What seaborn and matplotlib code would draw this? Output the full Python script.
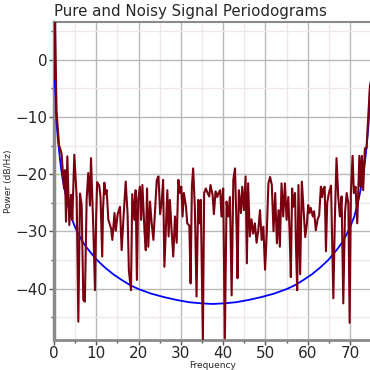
import numpy as np
import pandas as pd
import seaborn as sns
import matplotlib.pyplot as plt
from matplotlib.ticker import MultipleLocator

# noisy periodogram
NoisyFreq = [0.0, 0.25, 0.6, 1.2, 1.58, 1.8, 2.36, 2.6, 2.84, 3.15, 3.62, 4.02, 4.33, 4.8,
             5.36, 5.75, 6.15, 6.54, 6.93, 7.3, 7.72, 8.1, 8.5, 8.75, 9.3, 9.69, 9.95, 10.2,
             10.7, 11.0, 11.4, 11.6, 11.9, 12.2, 12.45, 12.85, 13.5, 13.8, 14.3, 14.6, 15.05,
             15.6, 16.0, 16.4, 16.95, 17.4, 17.7, 18.2, 18.5, 19.0, 19.3, 19.6, 19.9, 20.3,
             20.6, 20.9, 21.4, 21.7, 22.0, 22.3, 22.7, 23.1, 23.5, 23.9, 24.3, 24.7, 25.1,
             25.5, 25.8, 26.1, 26.5, 26.8, 27.1, 27.4, 27.8, 28.2, 28.6, 29.0, 29.4, 29.8,
             30.1, 30.4, 30.7, 31.2, 31.5, 32.0, 32.3, 32.6, 32.9, 33.3, 33.7, 34.1, 34.4,
             34.7, 35.2, 35.5, 35.9, 36.3, 36.7, 37.0, 37.5, 37.8, 38.2, 38.6, 38.9, 39.3,
             39.6, 40.0, 40.4, 40.8, 41.2, 41.6, 42.0, 42.4, 42.8, 43.2, 43.4, 43.7, 44.2,
             44.5, 44.9, 45.3, 45.6, 45.9, 46.3, 46.7, 47.1, 47.5, 47.9, 48.3, 48.7, 49.1,
             49.5, 49.9, 50.3, 50.7, 51.1, 51.5, 51.9, 52.3, 52.7, 53.1, 53.4, 53.8, 54.2,
             54.6, 55.0, 55.4, 55.7, 56.0, 56.3, 56.6, 57.0, 57.2, 57.5, 57.8, 58.2, 58.6,
             59.0, 59.4, 59.8, 60.1, 60.4, 60.7, 61.2, 61.5, 61.9, 62.3, 62.7, 63.1, 63.4,
             63.7, 64.0, 64.3, 64.6, 65.0, 65.5, 66.05, 66.4, 66.8, 67.2, 67.6, 68.0, 68.4,
             68.8, 69.2, 69.6, 69.9, 70.2, 70.6, 70.9, 71.3, 71.7, 72.2, 72.5, 72.8, 73.1,
             73.5, 73.9, 74.3, 74.7, 75.0]
NoisyPower = [-3.5, 6.6, -9.0, -15.0, -15.8, -16.5, -22.5, -19.3, -28.3, -16.9, -28.9, -23.6, -28.0, -16.6,
              -24.0, -45.8, -23.4, -25.4, -42.0, -42.3, -24.3, -19.8, -25.5, -17.2, -29.5, -40.3, -28.0, -21.4,
              -22.0, -24.0, -34.4, -26.0, -21.5, -23.5, -22.8, -28.0, -29.5, -31.5, -26.8, -29.9, -27.0,
              -25.7, -33.3, -28.0, -21.3, -27.0, -36.8, -40.3, -23.5, -28.0, -22.8, -38.5, -24.5, -22.2,
              -28.0, -21.9, -30.0, -33.3, -22.5, -32.7, -24.8, -28.6, -31.5, -26.3, -21.0, -20.4, -27.0,
              -24.5, -21.0, -36.2, -28.6, -22.8, -30.9, -24.5, -29.8, -34.4, -27.4, -32.0, -21.0, -23.3,
              -22.2, -27.4, -23.3, -25.6, -28.6, -29.0, -39.1, -22.3, -19.0, -25.7, -41.4, -24.5, -28.6,
              -24.5, -49.0, -23.3, -22.5, -23.3, -23.9, -21.9, -23.6, -27.0, -23.0, -24.0, -23.3, -22.8,
              -27.4, -22.5, -48.7, -24.8, -27.4, -24.0, -41.2, -21.0, -19.0, -30.4, -38.2, -22.8, -26.8,
              -22.2, -26.3, -20.4, -35.6, -21.6, -30.9, -27.9, -30.4, -28.6, -32.0, -29.8, -26.3, -31.5,
              -29.2, -36.7, -30.4, -21.6, -20.5, -21.9, -30.0, -23.3, -32.1, -26.3, -32.7, -21.6, -27.4,
              -21.6, -28.0, -24.0, -30.0, -38.0, -22.5, -25.7, -23.3, -32.1, -40.3, -21.9, -37.5, -21.3,
              -26.3, -31.0, -28.6, -25.4, -26.8, -25.9, -27.4, -26.5, -29.8, -28.0, -27.2, -22.2, -24.0,
              -22.5, -22.2, -33.5, -25.0, -23.3, -22.0, -41.7, -28.0, -17.2, -23.9, -27.4, -23.9, -42.6,
              -26.8, -23.3, -25.1, -46.0, -23.3, -16.8, -23.3, -22.2, -28.6, -16.8, -22.2, -16.8, -22.8,
              -15.5, -15.5, -9.9, -4.7, -3.5]

# pure signal periodogram
PureFreq = [0.0, 0.3, 0.6, 1.0, 1.5, 2, 3, 4, 5, 6, 7, 8, 10, 12, 14, 16, 18, 20, 23, 26, 29,
            32, 35, 37.5, 40, 43, 46, 49, 52, 55, 57, 59, 61, 63, 65, 67, 68, 69, 70, 71, 72,
            73, 73.5, 74, 74.4, 74.7, 75.0]
PurePower = [-3.5, -5.0, -11.0, -14.5, -18.0, -20.7, -24.6, -27.4, -29.3, -30.8, -32.1, -33.1,
             -34.9, -36.3, -37.5, -38.5, -39.4, -40.1, -40.9, -41.5, -42.0, -42.4, -42.6, -42.7,
             -42.6, -42.4, -42.0, -41.5, -40.9, -40.1, -39.4, -38.5, -37.5, -36.3, -34.9, -33.1,
             -32.1, -30.8, -29.3, -27.4, -24.6, -20.7, -18.0, -14.5, -11.0, -5.0, -3.5]

Noisy = pd.DataFrame({'Frequency': NoisyFreq, 'Power': NoisyPower})
Pure = pd.DataFrame({'Frequency': PureFreq, 'Power': PurePower})

sns.set_style('white')
plt.rcParams['font.family'] = ['DejaVu Sans']

fig = plt.figure(figsize=(3.7, 3.7), dpi=100)
ax = fig.add_axes([54 / 370, 30 / 370, 317.2 / 370, 318 / 370])

sns.lineplot(data=Pure, x='Frequency', y='Power', color='#0000ff', linewidth=1.3,
             errorbar=None, ax=ax, zorder=3)
sns.lineplot(data=Noisy, x='Frequency', y='Power', color='#7a0010', linewidth=1.5,
             errorbar=None, ax=ax, zorder=4)

ax.set_xlim(0, 75)
ax.set_ylim(min(NoisyPower), max(NoisyPower))
ax.xaxis.set_major_locator(MultipleLocator(10))
ax.xaxis.set_minor_locator(MultipleLocator(5))
ax.yaxis.set_major_locator(MultipleLocator(10))
ax.yaxis.set_minor_locator(MultipleLocator(5))
ax.grid(which='major', color='#b8b8b8', linewidth=1.0)
ax.grid(which='minor', color='#f0e6ea', linewidth=1.0)
ax.set_axisbelow(True)

for side in ['left', 'bottom', 'top']:
    ax.spines[side].set_color('#8a8a8a')
ax.spines['left'].set_linewidth(2.5)
ax.spines['bottom'].set_linewidth(2.0)
ax.spines['top'].set_linewidth(1.5)
ax.spines['right'].set_visible(False)

ax.tick_params(which='both', direction='out', color='#555555', length=3.5, width=1,
               left=True, bottom=True, labelsize=11, pad=1)
ax.tick_params(which='minor', length=2.5)

ax.set_title('Pure and Noisy Signal Periodograms', loc='left', fontsize=10.8, pad=4)
ax.set_xlabel('Frequency', fontsize=6.5, labelpad=0)
ax.set_ylabel('Power (dB/Hz)', fontsize=6.5, labelpad=2)

plt.savefig('out.png', dpi=100)
